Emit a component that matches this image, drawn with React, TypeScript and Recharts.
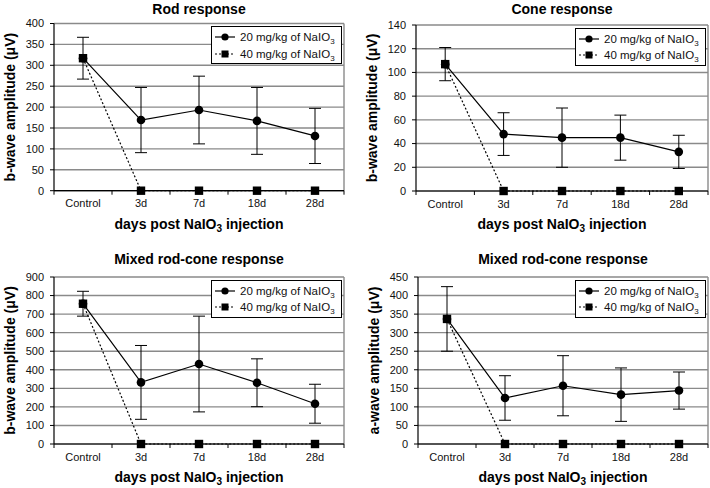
import React from 'react';
import {
  CartesianGrid,
  ComposedChart,
  ErrorBar,
  Label,
  Legend,
  Line,
  XAxis,
  YAxis,
} from 'recharts';

const DAYS = ['Control', '3d', '7d', '18d', '28d'];
const DOSES = ['20 mg/kg of NaIO', '40 mg/kg of NaIO'];

const ROD_20 = [317, 169, 193, 167, 131];
const ROD_20_SD = [50, 78, 81, 80, 66];
const ROD_40 = [317, 0, 0, 0, 0];
const ROD_TICKS = [0, 50, 100, 150, 200, 250, 300, 350, 400];

const CONE_20 = [107, 48, 45, 45, 33];
const CONE_20_SD = [14, 18, 25, 19, 14];
const CONE_40 = [107, 0, 0, 0, 0];
const CONE_TICKS = [0, 20, 40, 60, 80, 100, 120, 140];

const MIXB_20 = [756, 332, 431, 330, 217];
const MIXB_20_SD = [67, 199, 258, 129, 105];
const MIXB_40 = [756, 0, 0, 0, 0];
const MIXB_TICKS = [0, 100, 200, 300, 400, 500, 600, 700, 800, 900];

const MIXA_20 = [337, 124, 157, 133, 144];
const MIXA_20_SD = [87, 60, 81, 72, 50];
const MIXA_40 = [337, 0, 0, 0, 0];
const MIXA_TICKS = [0, 50, 100, 150, 200, 250, 300, 350, 400, 450];

const FONT = '"Liberation Sans", Arial, sans-serif';
const GRID = '#8a8a8a';
const PANEL_W = 355;

const buildRows = (m20: number[], sd20: number[], m40: number[]) =>
  DAYS.map((day, i) => ({ day, dose20: m20[i], sd20: sd20[i], dose40: m40[i] }));

function YTitle({ viewBox, text }: any) {
  if (!viewBox) return null;
  const cx = viewBox.x + viewBox.width - 44;
  const cy = viewBox.y + viewBox.height / 2;
  return (
    <text
      x={cx}
      y={cy}
      transform={`rotate(-90 ${cx} ${cy})`}
      textAnchor="middle"
      dominantBaseline="central"
      fontSize={14}
      fontWeight="bold"
      fill="#000"
    >
      {text}
    </text>
  );
}

function XTitle({ viewBox }: any) {
  if (!viewBox) return null;
  return (
    <text
      x={viewBox.x + viewBox.width / 2}
      y={viewBox.y + 38}
      textAnchor="middle"
      fontSize={14}
      fontWeight="bold"
      fill="#000"
    >
      <tspan>days post NaIO</tspan>
      <tspan dy={3} fontSize={10}>3</tspan>
      <tspan dy={-3}> injection</tspan>
    </text>
  );
}

function DayTick({ x, y, payload, index, visibleTicksCount, width }: any) {
  const half = payload?.offset ?? (width ?? 290) / (2 * (visibleTicksCount || 5));
  const last = index === (visibleTicksCount ?? DAYS.length) - 1;
  return (
    <g>
      <line x1={x - half} x2={x - half} y1={y} y2={y + 4} stroke="#000" />
      {last && <line x1={x + half} x2={x + half} y1={y} y2={y + 4} stroke="#000" />}
      <text x={x} y={y + 16.5} textAnchor="middle" fontSize={11} fill="#111">
        {payload.value}
      </text>
    </g>
  );
}

function SquareDot({ cx, cy, index }: any) {
  if (cx == null || cy == null) return <g key={index} />;
  return <rect key={index} x={cx - 4.2} y={cy - 4.2} width={8.4} height={8.4} fill="#000" />;
}

function DoseLegend() {
  return (
    <div
      style={{
        border: '1px solid #000',
        background: '#fff',
        padding: '2px 0 1px 3px',
        fontSize: 11.5,
        lineHeight: '16.5px',
        color: '#111',
        fontFamily: FONT,
      }}
    >
      {DOSES.map((name, i) => (
        <div key={name} style={{ display: 'flex', alignItems: 'center', whiteSpace: 'nowrap' }}>
          <svg width={20} height={10} style={{ display: 'block' }}>
            <line
              x1={0}
              x2={20}
              y1={5}
              y2={5}
              stroke="#000"
              strokeWidth={1.2}
              strokeDasharray={i === 1 ? '2 2' : undefined}
            />
            {i === 0 ? <circle cx={10} cy={5} r={3.6} fill="#000" /> : <rect x={6.5} y={1.5} width={7} height={7} fill="#000" />}
          </svg>
          <span style={{ marginLeft: 5 }}>
            {name}
            <sub style={{ fontSize: 8, lineHeight: 0, verticalAlign: '-3px' }}>3</sub>
          </span>
        </div>
      ))}
    </div>
  );
}

type PanelProps = {
  left: number;
  top: number;
  height: number;
  title: string;
  titleBaseline: number;
  yLabel: string;
  ticks: number[];
  rows: ReturnType<typeof buildRows>;
  plot: { left: number; right: number; top: number; bottom: number };
};

function Panel({ left, top, height, title, titleBaseline, yLabel, ticks, rows, plot }: PanelProps) {
  const plotW = plot.right - plot.left;
  return (
    <div style={{ position: 'absolute', left, top, width: PANEL_W, height }}>
      <div
        style={{
          position: 'absolute',
          left: plot.left,
          width: plotW,
          top: titleBaseline - 11.85,
          textAlign: 'center',
          fontSize: 14,
          lineHeight: '14px',
          fontWeight: 'bold',
          whiteSpace: 'nowrap',
        }}
      >
        {title}
      </div>
      <ComposedChart
        width={PANEL_W}
        height={height}
        data={rows}
        margin={{ top: plot.top, right: PANEL_W - plot.right, left: 0, bottom: 0 }}
      >
        <CartesianGrid
          stroke={GRID}
          strokeWidth={1.4}
          vertical
          horizontal
          verticalCoordinatesGenerator={({ offset }: any) => (offset ? [offset.left + offset.width] : [])}
        />
        <XAxis
          dataKey="day"
          type="category"
          scale="band"
          height={height - plot.bottom}
          tickSize={0}
          tickMargin={0}
          tickLine={false}
          axisLine={{ stroke: '#000', strokeWidth: 1.2 }}
          tick={<DayTick />}
          interval={0}
        >
          <Label content={<XTitle />} />
        </XAxis>
        <YAxis
          type="number"
          width={plot.left}
          domain={[0, ticks[ticks.length - 1]]}
          ticks={ticks}
          interval={0}
          tickSize={4}
          tickMargin={6}
          tickLine={{ stroke: '#000' }}
          axisLine={{ stroke: '#000', strokeWidth: 1.2 }}
          tick={{ fill: '#111', fontSize: 11 }}
        >
          <Label content={<YTitle text={yLabel} />} />
        </YAxis>
        <Legend
          content={<DoseLegend />}
          layout="vertical"
          align="center"
          verticalAlign="middle"
          wrapperStyle={{ left: plot.right - 133, top: plot.top + 2.5, width: 131 }}
        />
        <Line
          dataKey="dose20"
          name={DOSES[0]}
          stroke="#000"
          strokeWidth={1.2}
          dot={{ r: 4.3, fill: '#000', stroke: '#000', strokeWidth: 0 }}
          activeDot={false}
          isAnimationActive={false}
        >
          <ErrorBar dataKey="sd20" width={6} stroke="#000" strokeWidth={1} direction="y" isAnimationActive={false} />
        </Line>
        <Line
          dataKey="dose40"
          name={DOSES[1]}
          stroke="#000"
          strokeWidth={1.2}
          strokeDasharray="2 2"
          dot={<SquareDot />}
          activeDot={false}
          isAnimationActive={false}
        />
      </ComposedChart>
    </div>
  );
}

export default function App() {
  return (
    <div
      style={{
        position: 'absolute',
        left: 0,
        top: 0,
        width: 710,
        height: 488,
        background: '#fff',
        fontFamily: FONT,
        color: '#000',
        overflow: 'hidden',
      }}
    >
      <Panel
        left={0}
        top={0}
        height={244}
        title="Rod response"
        titleBaseline={14}
        yLabel="b-wave amplitude (μV)"
        ticks={ROD_TICKS}
        rows={buildRows(ROD_20, ROD_20_SD, ROD_40)}
        plot={{ left: 54, right: 344, top: 23.5, bottom: 190.7 }}
      />
      <Panel
        left={355}
        top={0}
        height={244}
        title="Cone response"
        titleBaseline={14}
        yLabel="b-wave amplitude (μV)"
        ticks={CONE_TICKS}
        rows={buildRows(CONE_20, CONE_20_SD, CONE_40)}
        plot={{ left: 61, right: 353, top: 25, bottom: 191 }}
      />
      <Panel
        left={0}
        top={245}
        height={243}
        title="Mixed rod-cone response"
        titleBaseline={19}
        yLabel="b-wave amplitude (μV)"
        ticks={MIXB_TICKS}
        rows={buildRows(MIXB_20, MIXB_20_SD, MIXB_40)}
        plot={{ left: 54, right: 344, top: 32, bottom: 199 }}
      />
      <Panel
        left={355}
        top={245}
        height={243}
        title="Mixed rod-cone response"
        titleBaseline={19}
        yLabel="a-wave amplitude (μV)"
        ticks={MIXA_TICKS}
        rows={buildRows(MIXA_20, MIXA_20_SD, MIXA_40)}
        plot={{ left: 63, right: 353, top: 32, bottom: 199 }}
      />
    </div>
  );
}
